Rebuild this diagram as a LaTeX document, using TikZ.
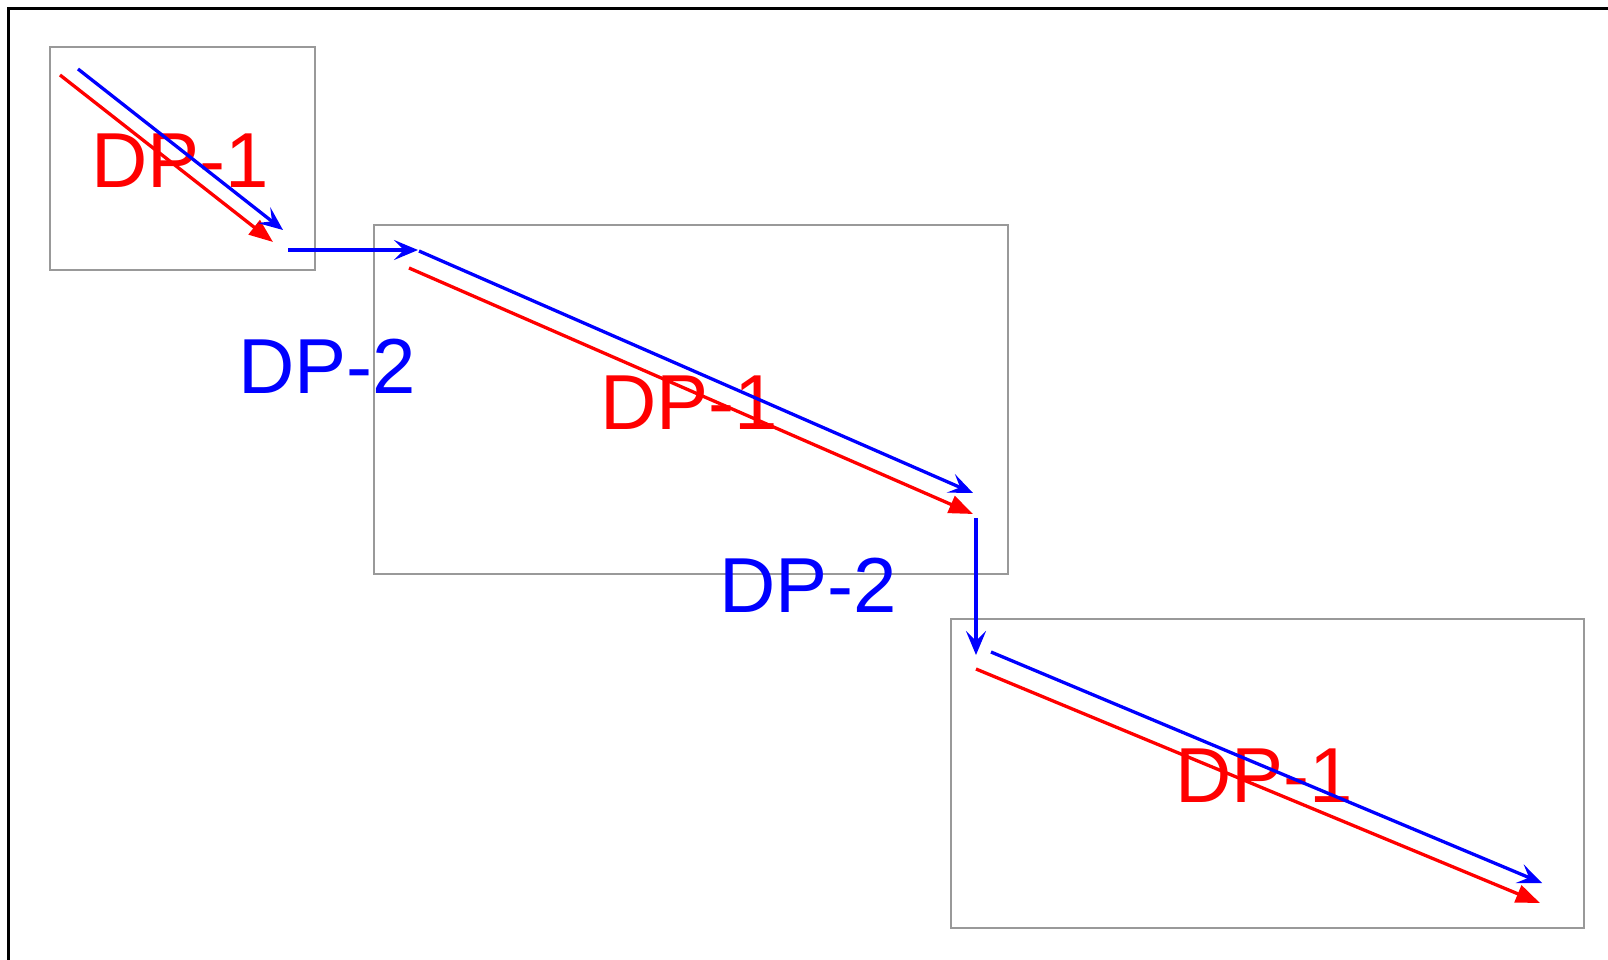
\documentclass[tikz,border=0pt]{standalone}
\usepackage{fontspec}
\setmainfont{Liberation Sans}
\usetikzlibrary{arrows.meta}
\tikzset{
  grpbox/.style={draw=black!40, line width=2pt},
  redarr/.style={draw=red, line width=3.3pt, -{Triangle[length=24pt,width=18pt]}},
  bluearr/.style={draw=blue, line width=3.3pt, -{Stealth[length=24pt,width=20pt,inset=10pt]}},
  redlbl/.style={text=red, font=\fontsize{78}{78}\selectfont, inner sep=0pt, anchor=base},
  bluelbl/.style={text=blue, font=\fontsize{78}{78}\selectfont, inner sep=0pt, anchor=base}
}
\begin{document}
\begin{tikzpicture}[x=1pt,y=-1pt]
\useasboundingbox (0,0) rectangle (1608,960);
\draw[line width=2.5pt, line cap=rect] (8.5,965) -- (8.5,8.5) -- (1615,8.5);
% boxes
\draw[grpbox] (50,47) rectangle (315,270);
\draw[grpbox] (374,225) rectangle (1008,574);
\draw[grpbox] (951,619) rectangle (1584,928);
% coordinates
\coordinate (r1s) at (60,75);   \coordinate (r1e) at (273,242);
\coordinate (b1s) at (78,69);   \coordinate (b1e) at (283,230);
\coordinate (h1s) at (288,250); \coordinate (h1e) at (418,250);
\coordinate (r2s) at (409,268); \coordinate (r2e) at (973,514);
\coordinate (b2s) at (419,251); \coordinate (b2e) at (973,493);
\coordinate (v1s) at (976,518); \coordinate (v1e) at (976,655);
\coordinate (r3s) at (976,669); \coordinate (r3e) at (1540,903);
\coordinate (b3s) at (991,652); \coordinate (b3e) at (1542,883);
% labels
\node[redlbl] (l1) at (180,188) {DP-1};
\node[bluelbl] (l2) at (327,393) {DP-2};
\node[redlbl] (l3) at (689,429) {DP-1};
\node[bluelbl] (l4) at (808,612) {DP-2};
\node[redlbl] (l5) at (1264,802) {DP-1};
% arrows
\draw[redarr] (r1s) -- (r1e);
\draw[bluearr] (b1s) -- (b1e);
\draw[bluearr] (h1s) -- (h1e);
\draw[redarr] (r2s) -- (r2e);
\draw[bluearr] (b2s) -- (b2e);
\draw[bluearr] (v1s) -- (v1e);
\draw[redarr] (r3s) -- (r3e);
\draw[bluearr] (b3s) -- (b3e);
\end{tikzpicture}
\end{document}
